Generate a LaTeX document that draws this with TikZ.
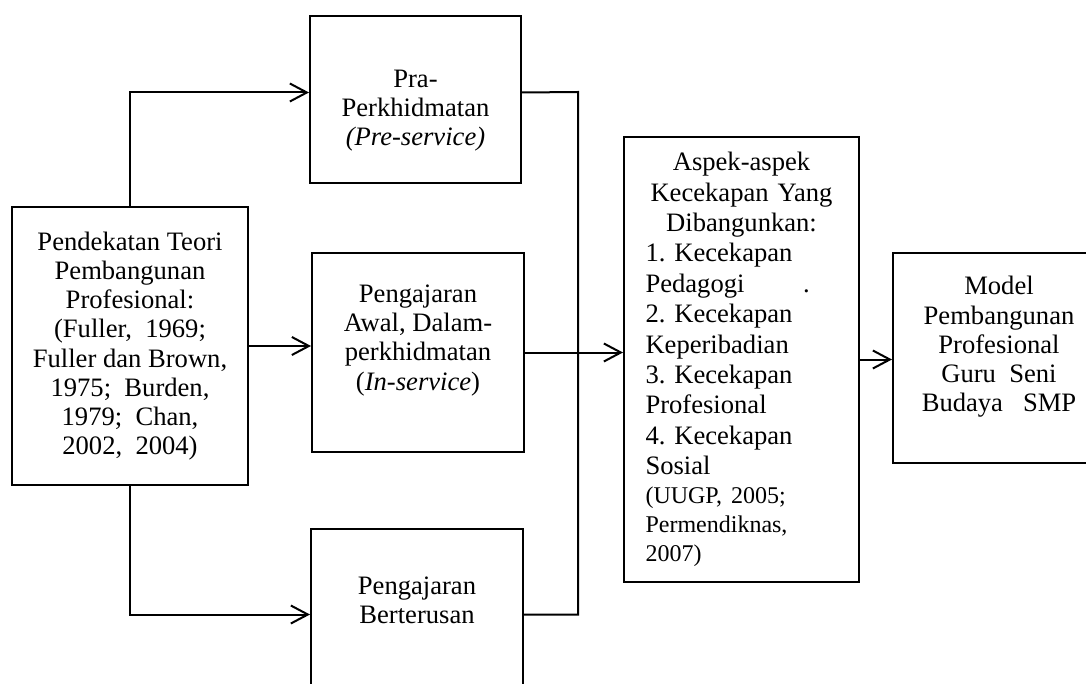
\documentclass[tikz,border=0pt]{standalone}
\usepackage{fontspec}
\setmainfont{Liberation Serif}
\usepackage{tikz}
\usetikzlibrary{arrows.meta}
\frenchspacing

\begin{document}
\begin{tikzpicture}[x=0.5pt, y=-0.5pt, line width=1pt]
		\tikzstyle{box}=[draw, align=center, inner sep=2pt, font=\fontsize{13.3}{14.6}\selectfont];
		\tikzstyle{link}=[draw];
		\tikzstyle{flow}=[draw, -{Straight Barb[length=8.5pt,width=9pt]}];

		\clip (0,0) rectangle (1086,684);

		\node[box, minimum width=118pt, minimum height=139pt] (teori) at (130,346)
			{Pendekatan Teori\\ Pembangunan\\ Profesional:\\ (Fuller, \ 1969;\\
			 Fuller dan Brown,\\ 1975; \ Burden,\\ 1979; \ Chan,\\ 2002, \ 2004)};
		\node[box, minimum width=105.5pt, minimum height=83.5pt] (pre) at (415.5,99.5)
			{\rule{0pt}{20pt}Pra-\\ Perkhidmatan\\ \textit{(Pre-service)}};
		\node[box, minimum width=106pt, minimum height=99.5pt] (awal) at (418,352.5)
			{Pengajaran\\ Awal, Dalam-\\ perkhidmatan\\ (\textit{In-service})\rule[-15pt]{0pt}{15pt}};
		\node[box, minimum width=106pt, minimum height=85.5pt] (terus) at (417,614.5)
			{Pengajaran\\ Berterusan\rule[-14pt]{0pt}{14pt}};
		\node[box, minimum width=117.5pt, minimum height=222.5pt, text width=96pt,
			font=\fontsize{13.3}{15.2}\selectfont] (aspek) at (741.5,359.5)
			{\centering Aspek-aspek\\ Kecekapan Yang\\ Dibangunkan:\par
			 \raggedright 1. Kecekapan\\ Pedagogi\hspace{2.2em}.\\ 2. Kecekapan\\ Keperibadian\\
			 3. Kecekapan\\ Profesional\\ 4. Kecekapan\\ Sosial\par
			 {\fontsize{12}{14.5}\selectfont (UUGP, 2005;\\ Permendiknas,\\ 2007)\par}};
		\node[box, minimum width=106pt, minimum height=105pt] (model) at (999,358)
			{Model\\ Pembangunan\\ Profesional\\ Guru \ Seni\\ Budaya \ \ SMP\rule[-14pt]{0pt}{14pt}};

		% cabang dari teori
		\draw[flow] (teori.north) |- ([yshift=3.5pt]pre.west);
		\draw[flow] (teori.east) -- (teori.east -| awal.west);
		\draw[flow] (teori.south) |- (terus.west);

		% penghubung ke aspek
		\coordinate (bus top) at (578,92);
		\coordinate (bus bot) at (578,614.5);
		\draw[link] ([yshift=3.5pt]pre.east) -- (bus top) -- (bus bot) -- (terus.east);
		\draw[flow] (awal.east) -- (awal.east -| aspek.west);
		\draw[flow] (aspek.east) -- (aspek.east -| model.west);
	\end{tikzpicture}
\end{document}
